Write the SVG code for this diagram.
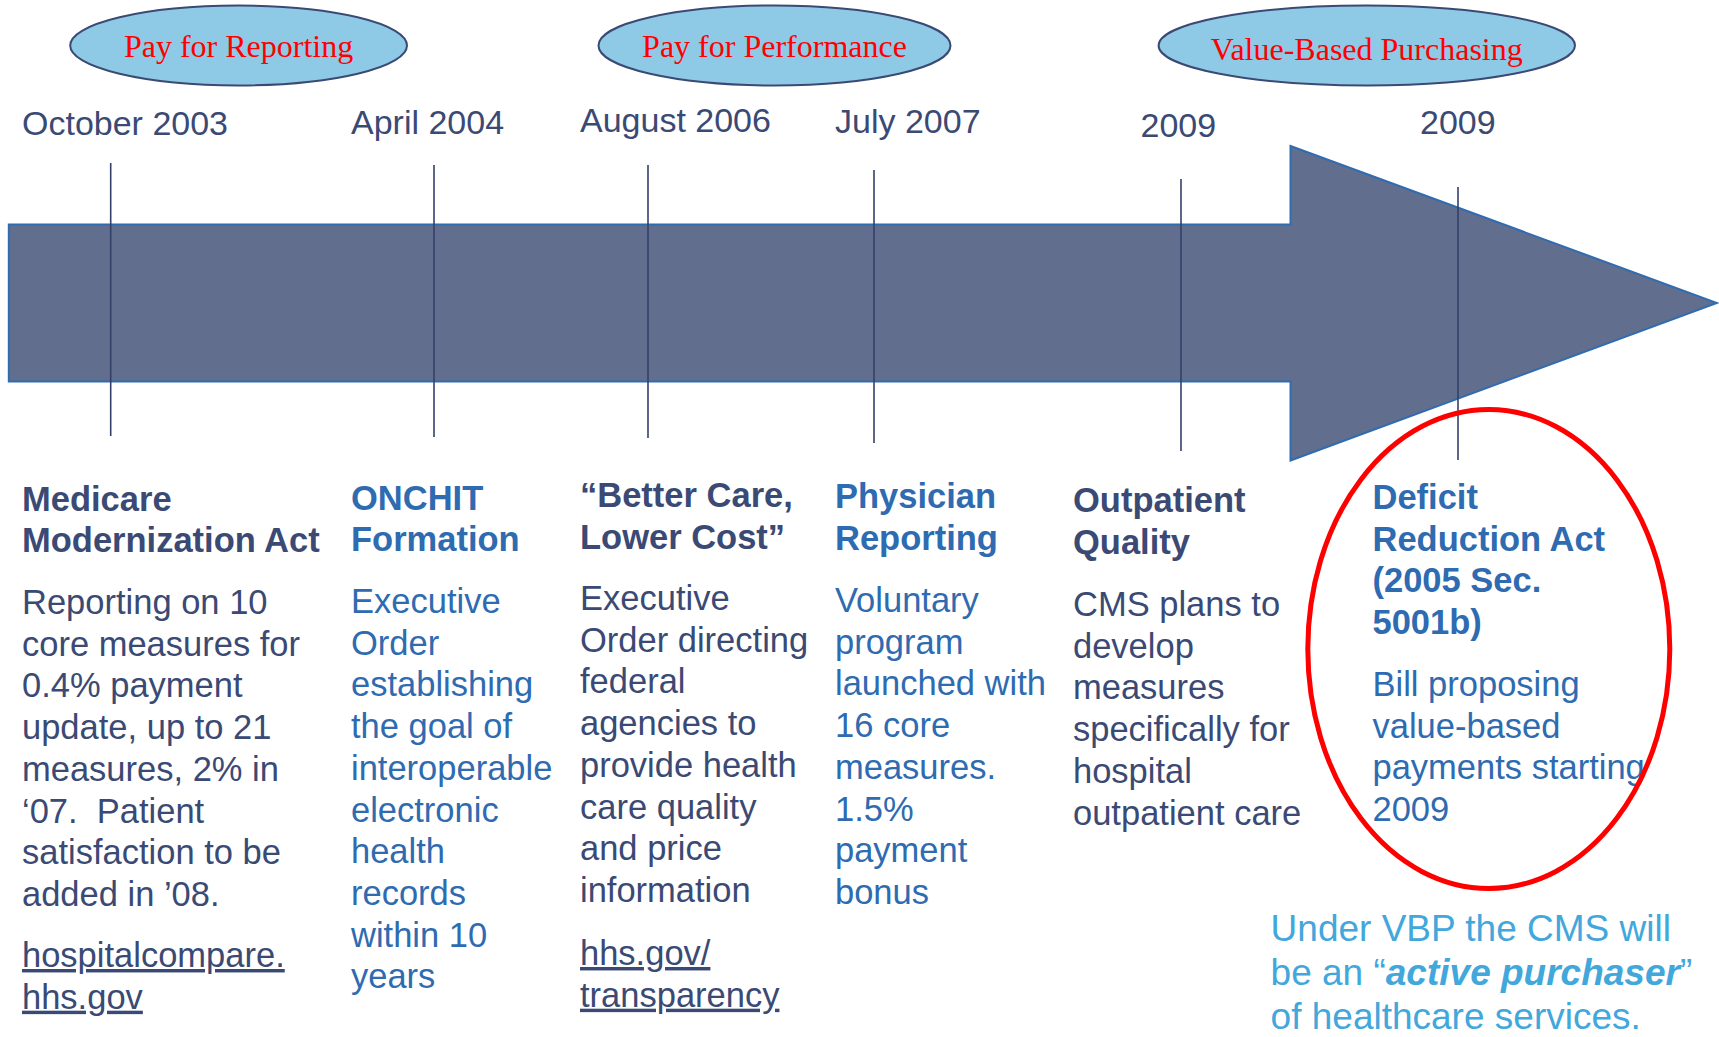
<svg xmlns="http://www.w3.org/2000/svg" width="1719" height="1037" viewBox="0 0 1719 1037">
<style>
text{font-family:"Liberation Sans",Arial,sans-serif;font-size:34.5px}
.era{font-family:"Liberation Serif","Times New Roman",serif;font-size:32px;fill:#ff0000;text-anchor:middle}
.era-shape{fill:#8ecae6;stroke:#3a4a74;stroke-width:2}
.date{fill:#3a4a74;font-size:34px}
.dk{fill:#3a4a74}
.md{fill:#2e6bb0}
.hd{font-weight:bold}
.lnk{text-decoration:underline}
.tick{stroke:#34406a;stroke-width:1.6}
.note{fill:#42a7db;font-size:37px}
</style>
<g id="timeline-arrow">
<polygon points="8.8,224.5 1290.5,224.5 1290.5,146 1717,303 1290.5,460.5 1290.5,381.5 8.8,381.5" fill="#616e8e" stroke="#2f6cb0" stroke-width="2"/>
</g>
<g id="connectors">
<line class="tick" x1="110.7" y1="163" x2="110.7" y2="436"/>
<line class="tick" x1="434" y1="165" x2="434" y2="437"/>
<line class="tick" x1="648" y1="165" x2="648" y2="438"/>
<line class="tick" x1="874" y1="170" x2="874" y2="443"/>
<line class="tick" x1="1181" y1="179" x2="1181" y2="451"/>
<line class="tick" x1="1458" y1="187" x2="1458" y2="460"/>
</g>
<g id="era-pay-for-reporting">
<ellipse class="era-shape" cx="238.6" cy="45.5" rx="168.4" ry="40"/>
<text class="era" x="238.6" y="57">Pay for Reporting</text>
</g>
<g id="era-pay-for-performance">
<ellipse class="era-shape" cx="774.5" cy="45.5" rx="176" ry="40"/>
<text class="era" x="774.5" y="57">Pay for Performance</text>
</g>
<g id="era-value-based-purchasing">
<ellipse class="era-shape" cx="1366.8" cy="45.5" rx="208.2" ry="40"/>
<text class="era" x="1366.8" y="60">Value-Based Purchasing</text>
</g>
<g id="date-oct-2003"><text class="date" x="22" y="135">October 2003</text></g>
<g id="date-apr-2004"><text class="date" x="351" y="134">April 2004</text></g>
<g id="date-aug-2006"><text class="date" x="580" y="132">August 2006</text></g>
<g id="date-jul-2007"><text class="date" x="835" y="133">July 2007</text></g>
<g id="date-2009-a"><text class="date" x="1140.5" y="137">2009</text></g>
<g id="date-2009-b"><text class="date" x="1420" y="134">2009</text></g>
<g id="node-mma">
<text class="dk hd" x="22" y="511">Medicare</text>
<text class="dk hd" x="22" y="552">Modernization Act</text>
<text class="dk" x="22" y="614">Reporting on 10</text>
<text class="dk" x="22" y="655.7">core measures for</text>
<text class="dk" x="22" y="697.4">0.4% payment</text>
<text class="dk" x="22" y="739.1">update, up to 21</text>
<text class="dk" x="22" y="780.8">measures, 2% in</text>
<text class="dk" x="22" y="822.5" xml:space="preserve">‘07.  Patient</text>
<text class="dk" x="22" y="864.2">satisfaction to be</text>
<text class="dk" x="22" y="905.9">added in ’08.</text>
<text class="dk lnk" x="22" y="967">hospitalcompare.</text>
<text class="dk lnk" x="22" y="1008.7">hhs.gov</text>
</g>
<g id="node-onchit">
<text class="md hd" x="351" y="510">ONCHIT</text>
<text class="md hd" x="351" y="551">Formation</text>
<text class="md" x="351" y="613">Executive</text>
<text class="md" x="351" y="654.7">Order</text>
<text class="md" x="351" y="696.4">establishing</text>
<text class="md" x="351" y="738.1">the goal of</text>
<text class="md" x="351" y="779.8">interoperable</text>
<text class="md" x="351" y="821.5">electronic</text>
<text class="md" x="351" y="863.2">health</text>
<text class="md" x="351" y="904.9">records</text>
<text class="md" x="351" y="946.6">within 10</text>
<text class="md" x="351" y="988.3">years</text>
</g>
<g id="node-better-care">
<text class="dk hd" x="580" y="507">“Better Care,</text>
<text class="dk hd" x="580" y="549">Lower Cost”</text>
<text class="dk" x="580" y="610">Executive</text>
<text class="dk" x="580" y="651.7">Order directing</text>
<text class="dk" x="580" y="693.4">federal</text>
<text class="dk" x="580" y="735.1">agencies to</text>
<text class="dk" x="580" y="776.8">provide health</text>
<text class="dk" x="580" y="818.5">care quality</text>
<text class="dk" x="580" y="860.2">and price</text>
<text class="dk" x="580" y="901.9">information</text>
<text class="dk lnk" x="580" y="965">hhs.gov/</text>
<text class="dk lnk" x="580" y="1006.7">transparency</text>
</g>
<g id="node-physician">
<text class="md hd" x="835" y="508">Physician</text>
<text class="md hd" x="835" y="550">Reporting</text>
<text class="md" x="835" y="612">Voluntary</text>
<text class="md" x="835" y="653.7">program</text>
<text class="md" x="835" y="695.4">launched with</text>
<text class="md" x="835" y="737.1">16 core</text>
<text class="md" x="835" y="778.8">measures.</text>
<text class="md" x="835" y="820.5">1.5%</text>
<text class="md" x="835" y="862.2">payment</text>
<text class="md" x="835" y="903.9">bonus</text>
</g>
<g id="node-outpatient">
<text class="dk hd" x="1073" y="512">Outpatient</text>
<text class="dk hd" x="1073" y="554">Quality</text>
<text class="dk" x="1073" y="616">CMS plans to</text>
<text class="dk" x="1073" y="657.7">develop</text>
<text class="dk" x="1073" y="699.4">measures</text>
<text class="dk" x="1073" y="741.1">specifically for</text>
<text class="dk" x="1073" y="782.8">hospital</text>
<text class="dk" x="1073" y="824.5">outpatient care</text>
</g>
<g id="node-dra">
<text class="md hd" x="1372.5" y="509">Deficit</text>
<text class="md hd" x="1372.5" y="550.5">Reduction Act</text>
<text class="md hd" x="1372.5" y="592">(2005 Sec.</text>
<text class="md hd" x="1372.5" y="633.5">5001b)</text>
<text class="md" x="1372.5" y="696">Bill proposing</text>
<text class="md" x="1372.5" y="737.7">value-based</text>
<text class="md" x="1372.5" y="779.4">payments starting</text>
<text class="md" x="1372.5" y="821.1">2009</text>
</g>
<g id="highlight-ring">
<ellipse cx="1488.8" cy="649" rx="181" ry="239.5" fill="none" stroke="#ff0000" stroke-width="5"/>
</g>
<g id="note-vbp">
<text class="note" x="1270.6" y="941">Under VBP the CMS will</text>
<text class="note" x="1270.6" y="985">be an “<tspan font-weight="bold" font-style="italic">active purchaser</tspan>”</text>
<text class="note" x="1270.6" y="1029">of healthcare services.</text>
</g>
</svg>
